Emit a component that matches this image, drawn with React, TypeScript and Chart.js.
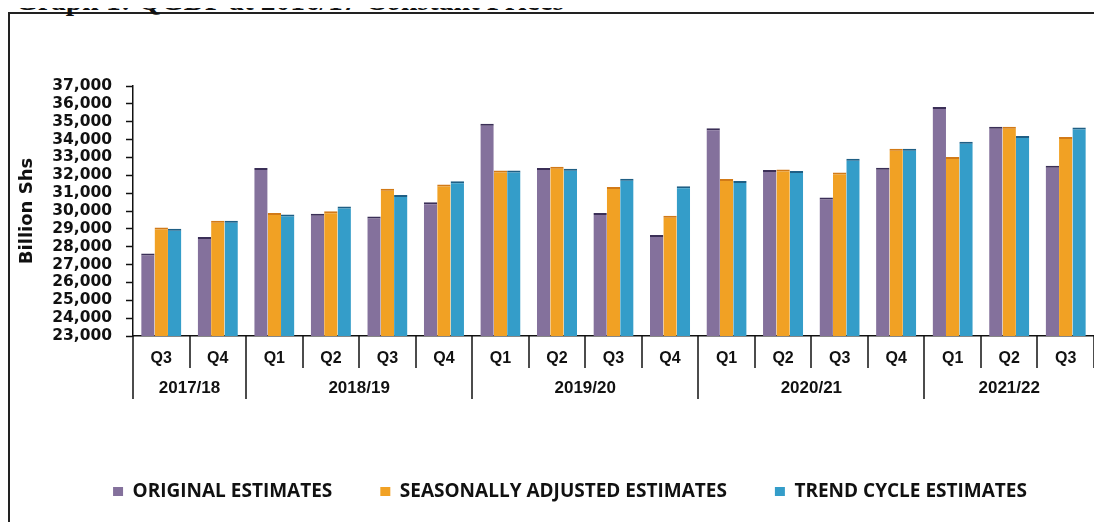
import React, { useEffect, useRef } from "react";
import { Chart, registerables } from "chart.js";

Chart.register(...registerables);

const quarters = ["Q3", "Q4", "Q1", "Q2", "Q3", "Q4", "Q1", "Q2", "Q3", "Q4", "Q1", "Q2", "Q3", "Q4", "Q1", "Q2", "Q3"];
const yearLabels = ["2017/18", "2018/19", "2019/20", "2020/21", "2021/22"];
const yearSpans = [2, 4, 4, 4, 3];

const originalEstimates = [27620, 28550, 32410, 29850, 29690, 30490, 34880, 32410, 29890, 28660, 34640, 32300, 30750, 32420, 35820, 34720, 32540];
const seasonallyAdjusted = [29070, 29450, 29890, 29980, 31250, 31490, 32270, 32480, 31350, 29730, 31790, 32330, 32150, 33490, 33020, 34720, 34140];
const trendCycle = [29000, 29450, 29800, 30250, 30900, 31660, 32270, 32370, 31810, 31380, 31680, 32240, 32930, 33490, 33880, 34200, 34680];

const yMin = 23000;
const yMax = 37000;
const yStep = 1000;

const seriesNames = ["ORIGINAL ESTIMATES", "SEASONALLY ADJUSTED ESTIMATES", "TREND CYCLE ESTIMATES"];
const seriesColors = ["#84719c", "#f1a124", "#349dc9"];
const seriesTopColors = ["#3b2f57", "#d27a17", "#1f5f85"];

const titleText = "Graph 1: QGDP at 2016/17 Constant Prices";
const yTitle = "Billion Shs";

const yearAxisPlugin = {
  id: "yearAxis",
  afterDraw(chart: any) {
    const x = chart.scales.x;
    const ctx = chart.ctx;
    const n = quarters.length;
    const step = x.getPixelForValue(1) - x.getPixelForValue(0);
    const edge = (i: number) => x.getPixelForValue(0) - step / 2 + i * step;
    const top = x.top;
    const starts: number[] = [];
    let acc = 0;
    yearSpans.forEach((s) => {
      starts.push(acc);
      acc += s;
    });
    ctx.save();
    ctx.strokeStyle = "#111";
    ctx.lineWidth = 1.5;
    for (let i = 0; i <= n; i++) {
      const long = starts.includes(i);
      const px = Math.round(edge(i));
      ctx.beginPath();
      ctx.moveTo(px, top);
      ctx.lineTo(px, top + (long ? 63 : 32));
      ctx.stroke();
    }
    ctx.fillStyle = "#111";
    ctx.font = "bold 17px 'Liberation Sans', Arial, sans-serif";
    ctx.textAlign = "center";
    ctx.textBaseline = "middle";
    yearLabels.forEach((lab, k) => {
      const a = edge(starts[k]);
      const b = edge(starts[k] + yearSpans[k]);
      ctx.fillText(lab, (a + b) / 2, top + 52);
    });
    ctx.restore();
  },
};

function BarChart() {
  const ref = useRef<HTMLCanvasElement | null>(null);
  useEffect(() => {
    if (!ref.current) return;
    const series = [originalEstimates, seasonallyAdjusted, trendCycle];
    const chart = new Chart(ref.current, {
      type: "bar",
      data: {
        labels: quarters,
        datasets: series.map((d, i) => ({
          label: seriesNames[i],
          data: d,
          backgroundColor: seriesColors[i],
          borderColor: seriesTopColors[i],
          borderWidth: { top: 2, right: 0, bottom: 0, left: 0 },
          borderSkipped: "start",
          categoryPercentage: 0.71,
          barPercentage: 1.0,
        })),
      },
      options: {
        animation: false,
        responsive: true,
        maintainAspectRatio: false,
        events: [],
        layout: { padding: { left: 36, right: 4, top: 72, bottom: 11 } },
        plugins: {
          tooltip: { enabled: false },
          legend: {
            position: "bottom",
            labels: {
              boxWidth: 10,
              boxHeight: 9,
              padding: 48,
              color: "#111",
              font: { family: "'Open Sans', sans-serif", size: 19, weight: "bold" },
              generateLabels: (c: any) =>
                Chart.defaults.plugins.legend.labels
                  .generateLabels(c)
                  .map((l: any) => ({ ...l, lineWidth: 0, fillStyle: seriesColors[l.datasetIndex] })),
            },
          },
        },
        scales: {
          x: {
            grid: { display: true, drawOnChartArea: false, drawTicks: false },
            border: { display: true, color: "#111", width: 1.5 },
            ticks: {
              color: "#111",
              padding: 13,
              font: { family: "'Liberation Sans', Arial, sans-serif", size: 16, weight: "bold" },
              maxRotation: 0,
              autoSkip: false,
            },
            afterFit: (s: any) => {
              s.height = 98;
            },
          },
          y: {
            min: yMin,
            max: yMax,
            grid: { drawOnChartArea: false, drawTicks: true, tickLength: 7, tickColor: "#111", tickWidth: 1.5 },
            border: { display: true, color: "#111", width: 1.5 },
            ticks: {
              stepSize: yStep,
              autoSkip: false,
              padding: 14,
              color: "#111",
              font: { family: "'DejaVu Sans', sans-serif", size: 15.5, weight: "bold" },
              callback: (v: any) => Number(v).toLocaleString("en-US"),
            },
            title: {
              display: true,
              text: yTitle,
              color: "#111",
              font: { family: "'DejaVu Sans', sans-serif", size: 18, weight: "bold" },
              padding: { top: -29.5, bottom: 0 },
            },
            afterFit: (s: any) => {
              s.width = 87;
            },
          },
        },
      },
      plugins: [yearAxisPlugin],
    } as any);
    return () => chart.destroy();
  }, []);
  return <canvas ref={ref} />;
}

export default function App() {
  return (
    <div style={{ position: "relative", paddingTop: 4 }}>
      <div
        style={{
          position: "absolute",
          top: -22,
          left: 7,
          fontFamily: "'Liberation Serif', 'Times New Roman', serif",
          fontWeight: "bold",
          fontSize: 29.5,
          lineHeight: "29px",
          color: "#111",
          whiteSpace: "nowrap",
        }}
      >
        {titleText}
      </div>
      <div
        style={{
          width: 1088,
          height: 508,
          borderTop: "2px solid #222",
          borderLeft: "2px solid #222",
          borderRight: "2px solid #222",
          overflow: "hidden",
        }}
      >
        <div style={{ position: "relative", width: 1088, height: 508 }}>
          <BarChart />
        </div>
      </div>
    </div>
  );
}
